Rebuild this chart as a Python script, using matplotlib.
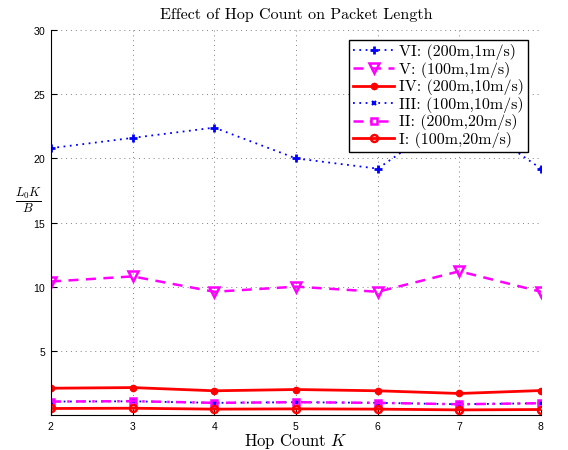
import matplotlib
matplotlib.use("Agg")
import matplotlib.pyplot as plt

hops = [2, 3, 4, 5, 6, 7, 8]

vi = [20.8, 21.6, 22.4, 20.0, 19.2, 23.6, 19.2]
v = [10.4, 10.8, 9.6, 10.0, 9.6, 11.2, 9.6]
iv = [2.08, 2.13, 1.88, 1.98, 1.88, 1.67, 1.90]
iii = [1.04, 1.06, 0.94, 0.99, 0.94, 0.83, 0.91]
ii = [1.04, 1.07, 0.94, 0.99, 0.94, 0.83, 0.91]
i_ = [0.50, 0.52, 0.45, 0.47, 0.45, 0.39, 0.42]

labels = ["VI: (200m,1m/s)", "V: (100m,1m/s)", "IV: (200m,10m/s)",
          "III: (100m,10m/s)", "II: (200m,20m/s)", "I: (100m,20m/s)"]
yticks = [5, 10, 15, 20, 25, 30]

plt.rcParams["font.family"] = "serif"
plt.rcParams["font.serif"] = ["cmr10", "DejaVu Serif"]
plt.rcParams["mathtext.fontset"] = "cm"
plt.rcParams["axes.formatter.use_mathtext"] = True


def main():
    fig = plt.figure(figsize=(5.68, 4.5), dpi=100)
    ax = fig.add_axes([0.0898, 0.078, 0.8627, 0.855])

    ax.plot(hops, vi, color="blue", linestyle=(0, (1, 2.5)), marker="+", markersize=6,
            markeredgewidth=2, linewidth=1.3, label=labels[0])
    ax.plot(hops, v, color="magenta", linestyle=(0, (4, 3)), marker="v", markersize=6.5,
            markerfacecolor="none", markeredgewidth=1.8, linewidth=1.8, label=labels[1])
    ax.plot(hops, iv, color="red", linestyle="-", marker=".", markersize=9,
            linewidth=2, label=labels[2])
    ax.plot(hops, iii, color="blue", linestyle=(0, (1, 2.5)), marker="x", markersize=3.5,
            markeredgewidth=1.5, linewidth=1.3, label=labels[3])
    ax.plot(hops, ii, color="magenta", linestyle=(0, (4, 2.5, 1, 2.5)), marker="s",
            markersize=5, markerfacecolor="none", markeredgewidth=1.8, linewidth=1.8,
            label=labels[4])
    ax.plot(hops, i_, color="red", linestyle="-", marker="o", markersize=5,
            markerfacecolor="none", markeredgewidth=1.8, linewidth=2, label=labels[5])

    ax.set_xlim(2, 8)
    ax.set_ylim(0, 30)
    ax.set_xticks(hops)
    ax.set_yticks(yticks)
    for lab in ax.get_xticklabels() + ax.get_yticklabels():
        lab.set_family("Liberation Sans")
        lab.set_fontsize(7.5)
    ax.tick_params(direction="in", length=4, width=0.8)
    ax.spines["top"].set_visible(False)
    ax.spines["right"].set_visible(False)
    ax.grid(True, linestyle=(0, (1, 4)), color="0.5", linewidth=0.7)

    ax.set_title("Effect of Hop Count on Packet Length", fontsize=11.5, pad=8)
    ax.set_xlabel("Hop Count $K$", fontsize=12, labelpad=0)
    ax.set_ylabel(r"$\frac{L_0K}{B}$", fontsize=13, rotation=0)
    ax.yaxis.set_label_coords(-0.045, 0.52)

    leg = ax.legend(loc="upper right", bbox_to_anchor=(0.99, 0.995), fontsize=11.5,
                    fancybox=False, framealpha=1, edgecolor="black",
                    handlelength=2.6, borderpad=0.25, labelspacing=0.1,
                    handletextpad=0.3)
    leg.get_frame().set_linewidth(1.0)

    fig.savefig("out.png", dpi=100)


if __name__ == "__main__":
    main()
